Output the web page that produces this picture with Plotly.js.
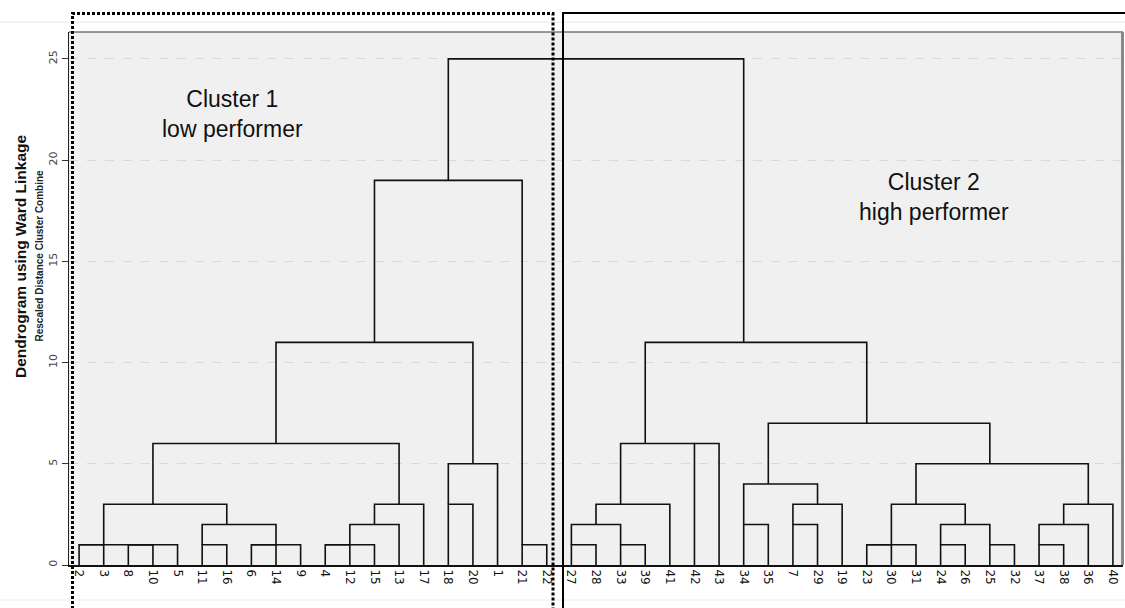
<!DOCTYPE html>
<html>
<head>
<meta charset="utf-8">
<script src="https://cdn.plot.ly/plotly-3.0.1.min.js"></script>
<style>html,body{margin:0;padding:0;background:#fff;}#chart{width:1125px;height:608px;}</style>
</head>
<body>
<div id="chart"></div>
<script>
// Leaf order along the x axis (case numbers)
const leafOrder = [2,3,8,10,5,11,16,6,14,9,4,12,15,13,17,18,20,1,21,22,
  27,28,33,39,41,42,43,34,35,7,29,19,23,30,31,24,26,25,32,37,38,36,40];

// Agglomeration steps: [case in cluster A, case in cluster B, rescaled distance]
const mergeA = [2,8,8,2,11,6,6,11,2,4,4,4,4,2,18,18,2,21,2,
  27,33,27,27,42,27,34,7,7,34,23,23,24,25,24,23,37,37,37,23,34,27,2];
const mergeB = [3,10,5,8,16,14,9,6,11,12,15,13,17,4,20,1,18,22,21,
  28,39,33,41,43,42,35,29,19,7,30,31,26,32,25,24,38,36,40,37,23,34,27];
const mergeHeight = [1,1,1,1,1,1,1,2,3,1,1,2,3,6,3,5,11,1,19,
  1,1,2,3,6,6,2,2,3,4,1,1,1,1,2,3,1,2,3,5,7,11,25];

const yTicks = [0,5,10,15,20,25];
const yTitle = "Dendrogram using Ward Linkage";
const ySubTitle = "Rescaled Distance Cluster Combine";
const cluster1Text = "Cluster 1<br>low performer";
const cluster2Text = "Cluster 2<br>high performer";

// Build dendrogram paths from the merge list
const pos = {}, hgt = {}, owner = {};
leafOrder.forEach((c, i) => { owner[c] = 'L' + c; pos['L' + c] = i; hgt['L' + c] = 0; });
function find(c) { return owner[c]; }
const xs = [], ys = [];
mergeA.forEach((a, k) => {
  const b = mergeB[k], h = mergeHeight[k];
  let ca = find(a), cb = find(b);
  let pa = pos[ca], pb = pos[cb];
  if (pa > pb) { [ca, cb] = [cb, ca]; [pa, pb] = [pb, pa]; }
  xs.push(pa, pa, pb, pb, null);
  ys.push(hgt[ca], h, h, hgt[cb], null);
  const nid = 'M' + k;
  pos[nid] = Math.floor((pa + pb) / 2);
  hgt[nid] = h;
  Object.keys(owner).forEach(c => { if (owner[c] === ca || owner[c] === cb) owner[c] = nid; });
});

// pixel -> paper helpers for decorations
const L = 69, R = 1123, T = 32, B = 565;
const X = p => (p - L) / (R - L);
const Y = p => (B - p) / (B - T);

const trace = {
  x: xs, y: ys, type: 'scatter', mode: 'lines',
  line: {color: '#111', width: 1.6}, hoverinfo: 'skip', showlegend: false
};

const layout = {
  width: 1125, height: 608,
  margin: {l: L, r: 1125 - R, t: T, b: 608 - B, pad: 0},
  paper_bgcolor: '#ffffff', plot_bgcolor: '#f0f0f0',
  showlegend: false,
  xaxis: {
    range: [-0.41, 42.41], showgrid: false, zeroline: false,
    tickmode: 'array', tickvals: leafOrder.map((c, i) => i), ticktext: leafOrder.map(String),
    tickangle: 90, ticks: '', tickfont: {family: 'DejaVu Sans', size: 12, color: '#111'},
    showline: true, linecolor: '#111', linewidth: 2, fixedrange: true
  },
  yaxis: {
    range: [0, 26.33], tickmode: 'array', tickvals: yTicks, ticktext: yTicks.map(String),
    tickangle: -90, ticks: 'outside', ticklen: 6, tickcolor: '#333', tickwidth: 1,
    tickfont: {family: 'DejaVu Sans', size: 11, color: '#444'},
    showgrid: true, gridcolor: '#d9d9d9', griddash: 'dash', gridwidth: 1,
    zeroline: false, showline: true, linecolor: '#222', linewidth: 1.5, fixedrange: true
  },
  annotations: [
    {xref: 'paper', yref: 'paper', x: X(21), y: Y(256), text: yTitle, textangle: -90,
     showarrow: false, xanchor: 'center', yanchor: 'middle',
     font: {family: 'Liberation Sans', size: 15.5, color: '#111', weight: 'bold'}},
    {xref: 'paper', yref: 'paper', x: X(39.5), y: Y(256), text: ySubTitle, textangle: -90,
     showarrow: false, xanchor: 'center', yanchor: 'middle',
     font: {family: 'Liberation Sans', size: 10, color: '#222', weight: 'bold'}},
    {xref: 'paper', yref: 'paper', x: X(232), y: Y(114), text: cluster1Text,
     showarrow: false, xanchor: 'center', yanchor: 'middle', align: 'center',
     font: {family: 'Liberation Sans', size: 23, color: '#111'}},
    {xref: 'paper', yref: 'paper', x: X(934), y: Y(197), text: cluster2Text,
     showarrow: false, xanchor: 'center', yanchor: 'middle', align: 'center',
     font: {family: 'Liberation Sans', size: 23, color: '#111'}}
  ],
  shapes: [
    {type: 'line', xref: 'paper', yref: 'paper', x0: X(0), x1: X(1125), y0: Y(22), y1: Y(22),
     line: {color: '#e6e6e6', width: 1}},
    {type: 'line', xref: 'paper', yref: 'paper', x0: X(0), x1: X(1125), y0: Y(600), y1: Y(600),
     line: {color: '#ececec', width: 1}},
    {type: 'line', xref: 'paper', yref: 'paper', x0: X(69), x1: X(1123), y0: Y(32), y1: Y(32),
     line: {color: '#777', width: 1.5}},
    {type: 'line', xref: 'paper', yref: 'paper', x0: X(1122.5), x1: X(1122.5), y0: Y(565), y1: Y(32),
     line: {color: '#888', width: 3}},
    {type: 'rect', xref: 'paper', yref: 'paper', x0: X(72.5), x1: X(553), y0: Y(650), y1: Y(13.5),
     line: {color: '#000', width: 3, dash: '3px,2px'}, fillcolor: 'rgba(0,0,0,0)'},
    {type: 'rect', xref: 'paper', yref: 'paper', x0: X(563), x1: X(1150), y0: Y(650), y1: Y(13),
     line: {color: '#000', width: 2}, fillcolor: 'rgba(0,0,0,0)'}
  ]
};

Plotly.newPlot('chart', [trace], layout, {displayModeBar: false, staticPlot: true});
</script>
</body>
</html>
